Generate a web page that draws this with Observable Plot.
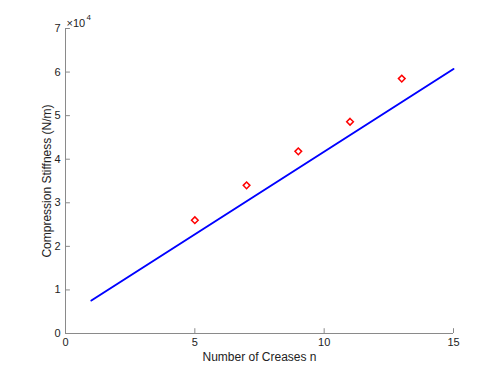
<!DOCTYPE html>
<html>
<head>
<meta charset="utf-8">
<script src="https://cdn.jsdelivr.net/npm/d3@7"></script>
<script src="https://cdn.jsdelivr.net/npm/@observablehq/plot@0.6"></script>
<style>
  body { margin: 0; background: #fff; }
  #chart svg { display: block; }
</style>
</head>
<body>
<div id="chart"></div>
<script>
// Fit line (blue)
const lineN = [1, 15];
const lineK = [7570, 60700];
// Measured points (red diamonds)
const pointN = [5, 7, 9, 11, 13];
const pointK = [26000, 34000, 41800, 48600, 58500];
// Axis ticks
const xTicks = [0, 5, 10, 15];
const yTicks = [0, 10000, 20000, 30000, 40000, 50000, 60000, 70000];

const lineData = lineN.map((n, i) => ({n, k: lineK[i]}));
const pointData = pointN.map((n, i) => ({n, k: pointK[i]}));

const axisColor = "#8a8a8a";
const chart = Plot.plot({
  width: 500,
  height: 375,
  marginLeft: 65,
  marginRight: 47,
  marginTop: 28,
  marginBottom: 42,
  style: {fontFamily: "Liberation Sans, Arial, Helvetica, sans-serif", fontSize: "11px", color: "#222", background: "#fff"},
  x: {domain: [0, 15], ticks: xTicks},
  y: {domain: [0, 70000], ticks: yTicks},
  marks: [
    Plot.ruleX([0], {stroke: axisColor}),
    Plot.ruleY([0], {stroke: axisColor}),
    // inward tick marks
    Plot.ruleX(xTicks, {y1: 0, y2: 1100, stroke: axisColor}),
    Plot.ruleY(yTicks, {x1: 0, x2: 0.19, stroke: axisColor}),
    Plot.axisX({ticks: xTicks, tickSize: 0, tickPadding: 5, label: null, fill: "#222"}),
    Plot.axisY({ticks: yTicks, tickSize: 0, tickPadding: 5, label: null, tickFormat: d => d / 10000, fill: "#222"}),
    Plot.line(lineData, {x: "n", y: "k", stroke: "#0000ff", strokeWidth: 2}),
    Plot.dot(pointData, {x: "n", y: "k", symbol: "diamond2", r: 3, stroke: "#ff0000", strokeWidth: 1.5, fill: "none"}),
    Plot.text(["Number of Creases n"], {frameAnchor: "bottom", lineAnchor: "middle", textAnchor: "middle", dy: 24, fontSize: 12, fill: "#222"}),
    Plot.text(["Compression Stiffness (N/m)"], {frameAnchor: "left", lineAnchor: "middle", textAnchor: "middle", dx: -18, rotate: -90, fontSize: 12, fill: "#222"}),
    Plot.text(["×10"], {frameAnchor: "top-left", dy: -9, dx: 1, textAnchor: "start", fontSize: 11, fill: "#222"}),
    Plot.text(["4"], {frameAnchor: "top-left", dy: -14, dx: 21, textAnchor: "start", fontSize: 8, fill: "#222"})
  ]
});
document.getElementById("chart").appendChild(chart);
</script>
</body>
</html>
